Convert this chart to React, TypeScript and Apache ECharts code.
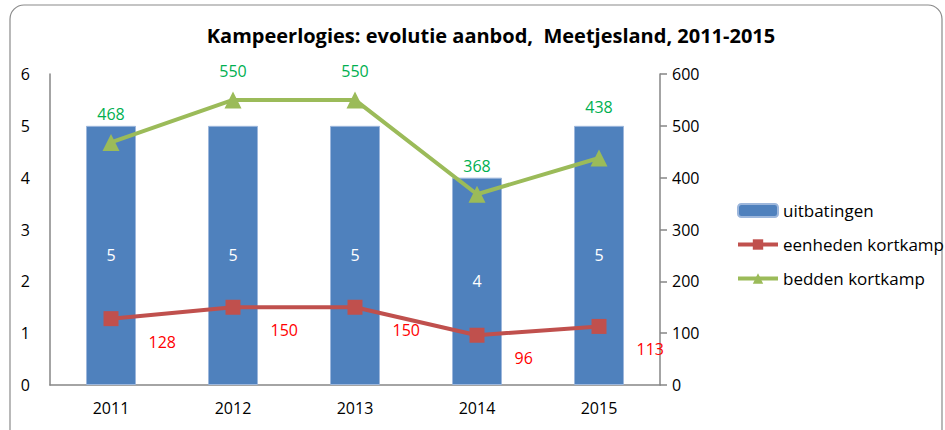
import React, { useEffect, useRef } from "react";
import * as echarts from "echarts";

const categories = ["2011", "2012", "2013", "2014", "2015"];
const uitbatingen = [5, 5, 5, 4, 5];
const eenheden = [128, 150, 150, 96, 113];
const bedden = [468, 550, 550, 368, 438];
const leftTicks = { min: 0, max: 6, interval: 1 };
const rightTicks = { min: 0, max: 600, interval: 100 };

const FONT = "'Open Sans', sans-serif";

export default function App() {
  const ref = useRef<HTMLDivElement>(null);
  useEffect(() => {
    document.body.style.margin = "0";
    const chart = echarts.init(ref.current!, null, { renderer: "svg" });
    chart.setOption({
      animation: false,
      backgroundColor: "#ffffff",
      textStyle: { fontFamily: FONT },
      title: {
        text: "Kampeerlogies: evolutie aanbod,  Meetjesland, 2011-2015",
        left: 486,
        textAlign: "center",
        top: 20,
        textStyle: { fontSize: 20, fontWeight: "bold", color: "#000", fontFamily: FONT },
      },
      graphic: [
        {
          type: "rect",
          shape: { x: 10, y: 5, width: 932, height: 440, r: 14 },
          style: { fill: "none", stroke: "#8a8a8a", lineWidth: 1.2 },
          silent: true,
          z: -1,
        },
      ],
      legend: {
        orient: "vertical",
        left: 731,
        top: 197,
        itemGap: 17,
        itemWidth: 40,
        itemHeight: 13,
        textStyle: { fontSize: 17, color: "#000", fontFamily: FONT },
        lineStyle: { width: 4 },
        data: ["uitbatingen", "eenheden kortkamp", "bedden kortkamp"],
      },
      grid: { left: 50, right: 285, top: 74, bottom: 45, containLabel: false },
      xAxis: {
        type: "category",
        data: categories,
        axisLine: { lineStyle: { color: "#868686", width: 1.5 } },
        axisTick: { show: false },
        axisLabel: { fontSize: 16, color: "#000", margin: 15, fontFamily: FONT },
      },
      yAxis: [
        {
          type: "value",
          ...leftTicks,
          axisLine: { show: true, lineStyle: { color: "#868686", width: 1.5 } },
          axisTick: { show: false },
          splitLine: { show: false },
          axisLabel: { fontSize: 16, color: "#000", margin: 20, fontFamily: FONT },
        },
        {
          type: "value",
          ...rightTicks,
          position: "right",
          axisLine: { show: true, lineStyle: { color: "#868686", width: 1.5 } },
          axisTick: { show: true, length: 7, lineStyle: { color: "#868686", width: 1.5 } },
          splitLine: { show: false },
          axisLabel: { fontSize: 16, color: "#000", margin: 12, fontFamily: FONT },
        },
      ],
      series: [
        {
          name: "uitbatingen",
          type: "bar",
          data: uitbatingen,
          barWidth: 50,
          itemStyle: { color: "#4F81BD", borderColor: "#9DB7DC", borderWidth: 1 },
          label: { show: true, position: "inside", color: "#fff", fontSize: 16, fontFamily: FONT },
        },
        {
          name: "eenheden kortkamp",
          type: "line",
          yAxisIndex: 1,
          data: eenheden,
          symbol: "rect",
          symbolSize: 15,
          lineStyle: { color: "#C0504D", width: 4 },
          itemStyle: { color: "#C0504D" },
          z: 3,
          label: {
            show: true,
            position: "right",
            distance: 30,
            offset: [0, 23],
            color: "#FF0000",
            fontSize: 16,
            fontFamily: FONT,
          },
        },
        {
          name: "bedden kortkamp",
          type: "line",
          yAxisIndex: 1,
          data: bedden.map((v, i) =>
            i === bedden.length - 1 ? { value: v, label: { offset: [0, -22] } } : v
          ),
          symbol: "triangle",
          symbolSize: 17,
          lineStyle: { color: "#9BBB59", width: 4 },
          itemStyle: { color: "#9BBB59" },
          z: 4,
          label: {
            show: true,
            position: "top",
            distance: 12,
            color: "#00B050",
            fontSize: 16,
            fontFamily: FONT,
          },
        },
      ],
    });
    return () => chart.dispose();
  }, []);
  return <div ref={ref} style={{ width: 945, height: 430 }} />;
}
